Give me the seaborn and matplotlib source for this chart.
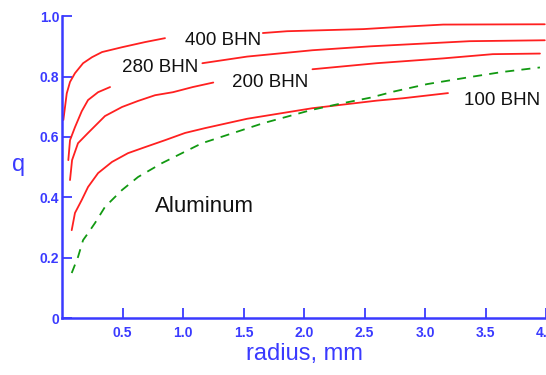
import numpy as np
import pandas as pd
import seaborn as sns
import matplotlib.pyplot as plt

# === data ===
r_400 = [0.011, 0.039, 0.066, 0.107, 0.174, 0.248, 0.331, 0.496, 0.686, 0.851]
q_400 = [0.656, 0.744, 0.782, 0.811, 0.844, 0.864, 0.881, 0.897, 0.914, 0.927]
r_400b = [1.66, 1.86, 2.49, 2.78, 3.15, 3.99]
q_400b = [0.944, 0.95, 0.957, 0.964, 0.972, 0.973]

r_280 = [0.052, 0.066, 0.107, 0.163, 0.215, 0.298, 0.397]
q_280 = [0.523, 0.589, 0.632, 0.685, 0.722, 0.748, 0.765]
r_280b = [1.16, 1.53, 2.07, 2.55, 2.79, 3.37, 3.99]
q_280b = [0.844, 0.866, 0.887, 0.90, 0.905, 0.917, 0.92]

r_200 = [0.066, 0.083, 0.132, 0.215, 0.355, 0.496, 0.628, 0.769, 0.917, 1.08, 1.25]
q_200 = [0.457, 0.523, 0.579, 0.613, 0.669, 0.699, 0.719, 0.738, 0.748, 0.765, 0.78]
r_200b = [2.07, 2.60, 3.15, 3.56, 3.95]
q_200b = [0.824, 0.844, 0.86, 0.874, 0.876]

r_100 = [0.080, 0.107, 0.163, 0.215, 0.298, 0.413, 0.545, 0.686, 0.851, 1.017,
         1.182, 1.53, 2.07, 2.60, 2.82, 3.19]
q_100 = [0.291, 0.348, 0.391, 0.434, 0.480, 0.517, 0.546, 0.566, 0.589, 0.613,
         0.629, 0.66, 0.695, 0.72, 0.728, 0.745]

r_al = [0.080, 0.132, 0.174, 0.215, 0.273, 0.355, 0.496, 0.628, 0.826, 1.041,
        1.157, 1.66, 2.07, 2.30, 2.55, 2.74, 3.02, 3.40, 3.64, 3.95]
q_al = [0.149, 0.202, 0.258, 0.281, 0.315, 0.368, 0.424, 0.467, 0.513, 0.556,
        0.579, 0.645, 0.69, 0.71, 0.73, 0.75, 0.775, 0.80, 0.815, 0.83]

labels = ["400 BHN", "280 BHN", "200 BHN", "100 BHN", "Aluminum"]
label_pos = [(1.33, 0.92), (0.81, 0.83), (1.72, 0.78), (3.64, 0.72), (1.18, 0.37)]

x_ticks = [0.5, 1.0, 1.5, 2.0, 2.5, 3.0, 3.5, 4.0]
y_ticks = [0, 0.2, 0.4, 0.6, 0.8, 1.0]

# === plot ===
sns.set_style("white")
plt.rcParams["font.family"] = ["Liberation Sans", "DejaVu Sans"]

blue = "#3a3aff"
fig = plt.figure(figsize=(5.46, 3.75), dpi=100)
ax = fig.add_axes([0.1136, 0.152, 0.8864, 0.805])

for rr, qq in [(r_400, q_400), (r_400b, q_400b), (r_280, q_280), (r_280b, q_280b),
               (r_200, q_200), (r_200b, q_200b), (r_100, q_100)]:
    sns.lineplot(x=rr, y=qq, ax=ax, color="#ff2020", lw=1.3, sort=False, estimator=None)
sns.lineplot(x=r_al, y=q_al, ax=ax, color="#119911", lw=1.3, sort=False,
             estimator=None, linestyle=(0, (5, 4)))

for txt, (x, y) in zip(labels, label_pos):
    ax.text(x, y, txt, ha="center", va="center",
            fontsize=16 if txt == "Aluminum" else 13.5, color="#111111")

ax.set_xlim(0, 4.0)
ax.set_ylim(0, 1.0)
ax.set_xticks(x_ticks)
ax.set_xticklabels([f"{t:.1f}" for t in x_ticks])
ax.set_yticks(y_ticks)
ax.set_yticklabels(["0"] + [f"{t:.1f}" for t in y_ticks[1:]])
ax.tick_params(direction="in", length=7, width=1.3, colors=blue, labelsize=10,
               left=True, bottom=True)
for lab in ax.get_xticklabels() + ax.get_yticklabels():
    lab.set_fontweight("bold")
ax.tick_params(axis="x", pad=6)
ax.tick_params(axis="y", pad=2)
for s in ["top", "right"]:
    ax.spines[s].set_visible(False)
for s in ["left", "bottom"]:
    ax.spines[s].set_color(blue)
    ax.spines[s].set_linewidth(1.8)
ax.set_xlabel("radius, mm", color=blue, fontsize=17, labelpad=2)
ax.set_ylabel("q", color=blue, fontsize=17, rotation=0)
ax.yaxis.set_label_coords(-0.09, 0.47)

fig.savefig("out.png", dpi=100)
